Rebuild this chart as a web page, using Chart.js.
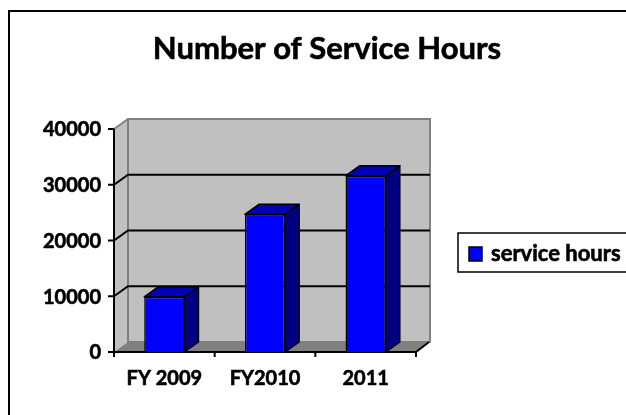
<!DOCTYPE html>
<html>
<head>
<meta charset="utf-8">
<script src="https://cdn.jsdelivr.net/npm/chart.js@4.4.1/dist/chart.umd.min.js"></script>
<style>
  html, body { margin: 0; padding: 0; background: #fff; }
  canvas { display: block; }
</style>
</head>
<body>
<canvas id="chart" width="626" height="415"></canvas>
<script>
// chart data
const categories = ['FY 2009', 'FY2010', '2011'];
const serviceHours = [9900, 24700, 31600];
const yTicks = [0, 10000, 20000, 30000, 40000];
const seriesName = 'service hours';
const chartTitle = 'Number of Service Hours';

// depth of the 3d effect
const DX = 14, DY = -10;
const FONT = 'Lato, "Open Sans", sans-serif';

// bold text with a hairline stroke so it looks as heavy as the original
function heavyText(ctx, txt, x, y) {
  ctx.fillText(txt, x, y);
  ctx.lineWidth = 0.6;
  ctx.strokeStyle = '#000';
  ctx.strokeText(txt, x, y);
}

const excel3d = {
  id: 'excel3d',
  beforeDatasetsDraw(chart) {
    const ctx = chart.ctx;
    const area = chart.chartArea;
    const x = chart.scales.x, y = chart.scales.y;
    const L = area.left, R = area.right, T = y.getPixelForValue(yTicks[yTicks.length - 1]), B = y.getPixelForValue(0);

    ctx.save();
    // outer chart border (runs off the right / bottom)
    ctx.strokeStyle = '#000';
    ctx.lineWidth = 2;
    ctx.strokeRect(9, 11, 700, 500);

    // title
    ctx.fillStyle = '#000';
    ctx.font = 'bold 31px ' + FONT;
    ctx.textAlign = 'center';
    ctx.textBaseline = 'alphabetic';
    heavyText(ctx, chartTitle, 327, 59);

    // side wall
    ctx.fillStyle = '#c0c0c0';
    ctx.beginPath();
    ctx.moveTo(L, T); ctx.lineTo(L + DX, T + DY); ctx.lineTo(L + DX, B + DY); ctx.lineTo(L, B);
    ctx.closePath(); ctx.fill();
    // back wall
    ctx.fillRect(L + DX, T + DY, R - L, B - T);
    ctx.strokeStyle = '#808080';
    ctx.lineWidth = 2;
    ctx.strokeRect(L + DX, T + DY, R - L, B - T);
    ctx.beginPath();
    ctx.moveTo(L, T); ctx.lineTo(L + DX, T + DY);
    ctx.stroke();

    // floor
    ctx.fillStyle = '#808080';
    ctx.beginPath();
    ctx.moveTo(L, B); ctx.lineTo(R, B); ctx.lineTo(R + DX, B + DY); ctx.lineTo(L + DX, B + DY);
    ctx.closePath(); ctx.fill();

    // gridlines
    ctx.strokeStyle = '#000';
    ctx.lineWidth = 2;
    yTicks.slice(1, -1).forEach(v => {
      const py = y.getPixelForValue(v);
      ctx.beginPath();
      ctx.moveTo(L, py); ctx.lineTo(L + DX, py + DY); ctx.lineTo(R + DX, py + DY);
      ctx.stroke();
    });

    // axes
    ctx.beginPath();
    ctx.moveTo(L, T); ctx.lineTo(L, B + 5);
    ctx.moveTo(L - 6, B); ctx.lineTo(R, B); ctx.lineTo(R + DX - 1, B + DY);
    ctx.stroke();
    yTicks.forEach(v => {
      const py = y.getPixelForValue(v);
      ctx.beginPath(); ctx.moveTo(L - 6, py); ctx.lineTo(L, py); ctx.stroke();
    });
    for (let i = 0; i < categories.length; i++) {
      const px = i < categories.length - 1 ? (x.getPixelForTick(i) + x.getPixelForTick(i + 1)) / 2 : R;
      ctx.beginPath(); ctx.moveTo(px, B); ctx.lineTo(px, B + 5); ctx.stroke();
    }

    // tick labels
    ctx.fillStyle = '#000';
    ctx.font = 'bold 20px ' + FONT;
    ctx.textAlign = 'right';
    ctx.textBaseline = 'middle';
    yTicks.forEach(v => heavyText(ctx, String(v), L - 13, y.getPixelForValue(v) + 1));
    ctx.textAlign = 'center';
    ctx.textBaseline = 'alphabetic';
    categories.forEach((c, i) => heavyText(ctx, c, x.getPixelForTick(i), 385));

    // legend
    ctx.strokeStyle = '#000';
    ctx.lineWidth = 1.5;
    ctx.strokeRect(458, 233, 250, 39);
    ctx.fillStyle = '#0000ff';
    ctx.fillRect(469, 247, 13, 14);
    ctx.strokeRect(469, 247, 13, 14);
    ctx.fillStyle = '#000';
    ctx.font = 'bold 22px ' + FONT;
    ctx.textAlign = 'left';
    ctx.textBaseline = 'middle';
    heavyText(ctx, seriesName, 491, 254);
    ctx.restore();
  },
  afterDatasetsDraw(chart) {
    const ctx = chart.ctx;
    const meta = chart.getDatasetMeta(0);
    ctx.save();
    ctx.strokeStyle = '#000';
    ctx.lineWidth = 1.5;
    ctx.lineJoin = 'round';
    meta.data.forEach(bar => {
      const l = bar.x - bar.width / 2, r = bar.x + bar.width / 2, t = bar.y, b = bar.base;
      // top face
      ctx.fillStyle = '#0000b4';
      ctx.beginPath();
      ctx.moveTo(l, t); ctx.lineTo(l + DX, t + DY); ctx.lineTo(r + DX, t + DY); ctx.lineTo(r, t);
      ctx.closePath(); ctx.fill(); ctx.stroke();
      // side face
      ctx.fillStyle = '#000080';
      ctx.beginPath();
      ctx.moveTo(r, t); ctx.lineTo(r + DX, t + DY); ctx.lineTo(r + DX, b + DY); ctx.lineTo(r, b);
      ctx.closePath(); ctx.fill(); ctx.stroke();
    });
    ctx.restore();
  }
};

new Chart(document.getElementById('chart'), {
  type: 'bar',
  data: {
    labels: categories,
    datasets: [{
      label: seriesName,
      data: serviceHours,
      backgroundColor: '#0000ff',
      borderColor: '#000',
      borderWidth: 1.5,
      barPercentage: 0.4,
      categoryPercentage: 1.0
    }]
  },
  options: {
    responsive: false,
    animation: false,
    layout: { padding: { left: 114, top: 129, right: 210, bottom: 63 } },
    scales: {
      x: { display: false },
      y: { display: false, min: 0, max: 40000 }
    },
    plugins: {
      legend: { display: false },
      title: { display: false },
      tooltip: { enabled: false }
    }
  },
  plugins: [excel3d]
});
</script>
</body>
</html>
